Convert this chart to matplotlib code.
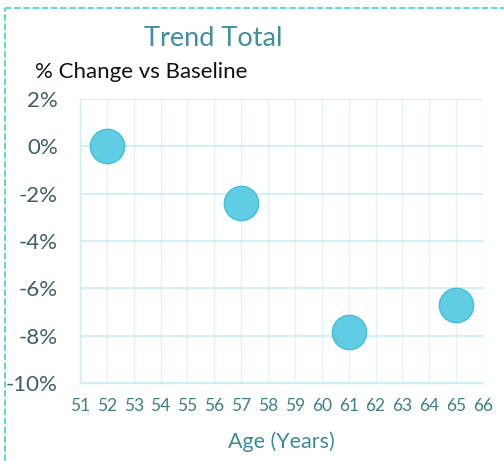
import matplotlib
matplotlib.use("Agg")
import matplotlib.pyplot as plt
from matplotlib.lines import Line2D
from matplotlib.ticker import FuncFormatter

ages = [52, 57, 61, 65]
pct_change = [0.0, -2.4, -7.85, -6.7]
x_ticks = list(range(51, 67))
y_ticks = [2, 0, -2, -4, -6, -8, -10]

plt.rcParams['font.family'] = ['Lato', 'DejaVu Sans']

W, H = 504, 461
fig = plt.figure(figsize=(W / 100, H / 100), dpi=100)
fig.patch.set_facecolor('white')

ax = fig.add_axes([80 / W, 1 - 383 / H, (483 - 80) / W, (383 - 99) / H])
ax.set_xlim(51, 66)
ax.set_ylim(-10, 2)
ax.set_xticks(x_ticks)
ax.set_yticks(y_ticks)
ax.yaxis.set_major_formatter(FuncFormatter(lambda v, p: f"{int(round(v))}%"))

ax.grid(True, axis='x', color='#e2f4f6', lw=1.0)
ax.grid(True, axis='y', color='#c8ecf1', lw=1.1)
ax.set_axisbelow(True)
for s in ['top', 'right']:
    ax.spines[s].set_visible(False)
for s in ['left', 'bottom']:
    ax.spines[s].set_color('#cdeef2')
    ax.spines[s].set_linewidth(1.0)

ax.tick_params(axis='both', length=0)
ax.tick_params(axis='y', labelsize=16, labelcolor='#3f5f66', pad=16)
ax.tick_params(axis='x', labelsize=12.5, labelcolor='#3c7f8a', pad=11)

ax.scatter(ages, pct_change, s=33 ** 2 * 0.56, color='#60cde4', edgecolors='#3fc0da',
           linewidths=1.0, zorder=3, clip_on=False)

ax.set_xlabel('Age (Years)', fontsize=15.5, color='#3e8a98', labelpad=12)

fig.text(213 / W, 1 - 38 / H, 'Trend Total', fontsize=19.5, color='#3f8fa0',
         ha='center', va='center')
fig.text(35 / W, 1 - 72 / H, '% Change vs Baseline', fontsize=16, color='#111111',
         ha='left', va='center')

# dashed chart border (top and left visible)
fig.add_artist(Line2D([5 / W, 1.0], [1 - 8 / H, 1 - 8 / H], transform=fig.transFigure,
                      color='#3fd2d8', lw=1.2, ls=(0, (4, 1.5))))
fig.add_artist(Line2D([5 / W, 5 / W], [0.0, 1 - 8 / H], transform=fig.transFigure,
                      color='#3fd2d8', lw=1.2, ls=(0, (4, 1.5))))

fig.savefig('out.png', dpi=100)
